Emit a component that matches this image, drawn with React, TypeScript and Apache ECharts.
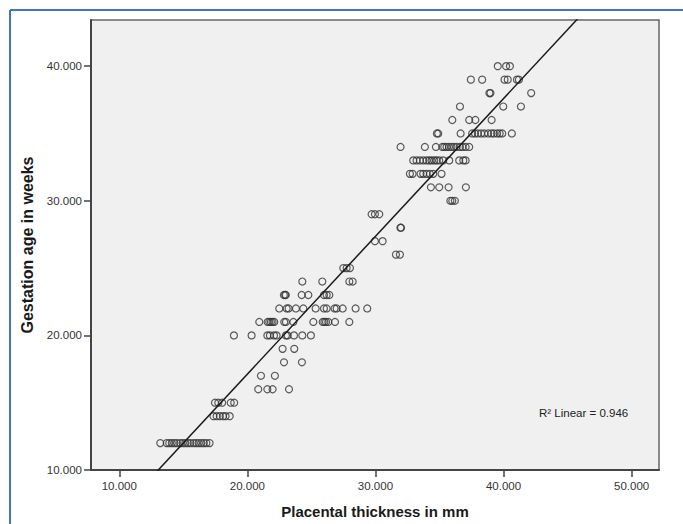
import React, { useEffect, useRef } from "react";
import * as echarts from "echarts";

// Axis setup
const X_TICKS = [10, 20, 30, 40, 50];
const Y_TICKS = [10, 20, 30, 40];
const X_MIN = 7.79;
const X_MAX = 52.14;
const Y_MIN = 10;
const Y_MAX = 43.43;

// Placental thickness (mm) observed for each gestation week
const WEEKS = [12, 14, 15, 16, 17, 18, 19, 20, 21, 22, 23, 24, 25, 26, 27, 28, 29, 30, 31, 32, 33, 34, 35, 36, 37, 38, 39, 40];
const week12 = [13.2, 13.7, 13.9, 14.1, 14.3, 14.5, 14.75, 14.95, 15.15, 15.35, 15.55, 15.8, 16.0, 16.2, 16.4, 16.6, 16.8, 17.05];
const week14 = [17.35, 17.6, 17.85, 18.1, 18.3, 18.62];
const week15 = [17.47, 17.73, 18.03, 18.7, 18.97];
const week16 = [20.85, 21.56, 21.97, 23.25];
const week17 = [21.06, 22.15];
const week18 = [22.86, 24.26];
const week19 = [22.75, 23.66];
const week20 = [18.95, 20.33, 21.56, 21.76, 22.08, 22.28, 23.01, 23.14, 23.64, 24.29, 24.96];
const week21 = [20.93, 21.58, 21.71, 21.84, 21.97, 22.1, 22.88, 23.01, 23.59, 25.15, 25.88, 26.01, 26.14, 26.32, 26.84, 27.96];
const week22 = [22.49, 23.07, 23.22, 23.79, 24.37, 25.33, 25.98, 26.19, 26.81, 26.97, 27.44, 28.45, 29.36];
const week23 = [22.85, 22.95, 23.0, 24.24, 24.76, 25.98, 26.19, 26.4];
const week24 = [24.29, 25.85, 27.96, 28.22];
const week25 = [27.49, 27.75, 28.01];
const week26 = [31.6, 31.91];
const week27 = [29.96, 30.56];
const week28 = [31.95, 32.0];
const week29 = [29.7, 29.96, 30.3];
const week30 = [35.85, 36.0, 36.2];
const week31 = [34.33, 34.98, 35.71, 37.06];
const week32 = [32.69, 32.9, 33.52, 33.73, 33.99, 34.25, 34.51, 35.16];
const week33 = [32.95, 33.21, 33.47, 33.73, 33.99, 34.2, 34.38, 34.59, 34.77, 34.98, 35.29, 35.76, 36.54, 36.86, 37.04];
const week34 = [31.96, 33.86, 34.72, 35.22, 35.37, 35.55, 35.74, 35.94, 36.13, 36.34, 36.6, 36.8, 37.04, 37.32];
const week35 = [34.8, 34.9, 36.65, 37.55, 37.77, 38.0, 38.25, 38.5, 38.8, 39.05, 39.25, 39.5, 39.7, 39.9, 40.65];
const week36 = [36.0, 37.32, 37.8, 39.07];
const week37 = [36.6, 39.98, 41.36];
const week38 = [38.9, 38.98, 42.16];
const week39 = [37.45, 38.33, 40.08, 40.33, 41.05, 41.2];
const week40 = [39.55, 40.2, 40.5];
const THICKNESS_BY_WEEK = [
  week12, week14, week15, week16, week17, week18, week19, week20, week21, week22,
  week23, week24, week25, week26, week27, week28, week29, week30, week31, week32,
  week33, week34, week35, week36, week37, week38, week39, week40,
];

// Linear fit shown on the chart
const FIT_SLOPE = 1.0236;
const FIT_INTERCEPT = -3.35;
const R2_LINEAR = 0.946;

const FONT = '"Liberation Sans", Arial, sans-serif';

export default function App() {
  const ref = useRef<HTMLDivElement>(null);

  useEffect(() => {
    if (!ref.current) return;
    const chart = echarts.init(ref.current, undefined, { renderer: "svg" });

    const points: number[][] = [];
    WEEKS.forEach((w, i) => {
      THICKNESS_BY_WEEK[i].forEach((t) => points.push([t, w]));
    });
    const fitLine = [X_MIN, X_MAX].map((x) => [x, FIT_SLOPE * x + FIT_INTERCEPT]);

    chart.setOption({
      animation: false,
      backgroundColor: "#ffffff",
      grid: {
        left: 91,
        right: 24,
        top: 20,
        bottom: 48,
        show: true,
        backgroundColor: "#f0f0f0",
        borderColor: "#666",
        borderWidth: 1.5,
      },
      xAxis: {
        type: "value",
        min: X_MIN,
        max: X_MAX,
        name: "Placental thickness in mm",
        nameLocation: "middle",
        nameGap: 34,
        nameTextStyle: { fontFamily: FONT, fontSize: 15, fontWeight: "bold", color: "#1a1a1a" },
        axisLine: { show: true, onZero: false, lineStyle: { color: "#444", width: 2 } },
        axisTick: { show: true, length: 7, customValues: X_TICKS, lineStyle: { color: "#444", width: 1.5 } },
        axisLabel: {
          customValues: X_TICKS,
          margin: 10,
          fontFamily: FONT,
          fontSize: 11.5,
          color: "#333",
          formatter: (v: number) => v.toFixed(3),
        },
        splitLine: { show: false },
      },
      yAxis: {
        type: "value",
        min: Y_MIN,
        max: Y_MAX,
        name: "Gestation age in weeks",
        nameLocation: "middle",
        nameGap: 45,
        nameTextStyle: { fontFamily: FONT, fontSize: 16, fontWeight: "bold", color: "#1a1a1a" },
        axisLine: { show: true, onZero: false, lineStyle: { color: "#444", width: 2 } },
        axisTick: { show: true, length: 7, customValues: Y_TICKS, lineStyle: { color: "#444", width: 1.5 } },
        axisLabel: {
          customValues: Y_TICKS,
          margin: 9,
          fontFamily: FONT,
          fontSize: 11.5,
          color: "#333",
          formatter: (v: number) => v.toFixed(3),
        },
        splitLine: { show: false },
      },
      series: [
        {
          type: "scatter",
          data: points,
          symbol: "circle",
          symbolSize: 7,
          itemStyle: { color: "rgba(0,0,0,0)", borderColor: "#333", borderWidth: 1.2 },
          z: 2,
        },
        {
          type: "line",
          data: fitLine,
          showSymbol: false,
          symbol: "none",
          clip: true,
          lineStyle: { color: "#1a1a1a", width: 1.5 },
          z: 3,
        },
      ],
      graphic: [
        {
          type: "text",
          x: 539,
          y: 413,
          style: {
            text: `R² Linear = ${R2_LINEAR.toFixed(3)}`,
            fontFamily: FONT,
            fontSize: 11.5,
            fill: "#222",
            verticalAlign: "middle",
          },
        },
        {
          type: "line",
          shape: { x1: 10, y1: 10, x2: 683, y2: 10 },
          style: { stroke: "#4472c4", lineWidth: 2 },
        },
        {
          type: "line",
          shape: { x1: 10, y1: 10, x2: 10, y2: 524 },
          style: { stroke: "#4472c4", lineWidth: 2 },
        },
      ],
    });

    return () => chart.dispose();
  }, []);

  return (
    <div
      ref={ref}
      style={{ position: "absolute", left: 0, top: 0, width: 683, height: 524, background: "#fff" }}
    />
  );
}
